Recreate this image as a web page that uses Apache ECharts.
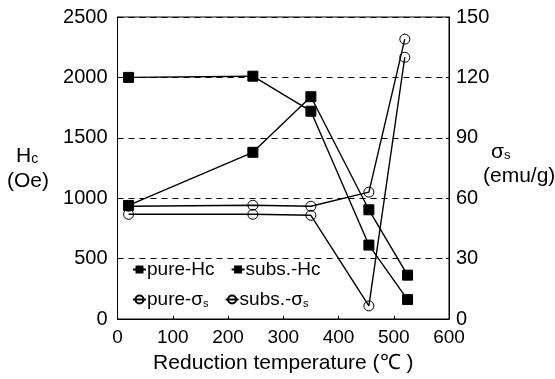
<!DOCTYPE html>
<html>
<head>
<meta charset="utf-8">
<script src="https://cdn.jsdelivr.net/npm/echarts@6/dist/echarts.min.js"></script>
<style>
  html, body { margin: 0; padding: 0; background: #fff; }
  #chart { width: 555px; height: 379px; }
</style>
</head>
<body>
<div id="chart"></div>
<script>
// reduction temperature (deg C)
const tempHc = [20, 245, 350, 455, 525];
const tempSigma = [20, 245, 350, 455, 520];

// coercivity Hc (Oe)
const pureHc = [2000, 2010, 1720, 612, 161];
const subsHc = [940, 1380, 1840, 904, 363];

// saturation magnetization sigma_s (emu/g)
const pureSigma = [56, 56.5, 56, 63, 139];
const subsSigma = [52, 52, 51.5, 6.5, 130];

const xTicks = [0, 100, 200, 300, 400, 500, 600];
const hcTicks = [0, 500, 1000, 1500, 2000, 2500];
const sigmaTicks = [0, 30, 60, 90, 120, 150];

const FONT = "'Liberation Sans', Arial, sans-serif";

const pair = (xs, ys) => xs.map((x, i) => [x, ys[i]]);

const squareSeries = (name, data) => ({
    name: name,
    type: 'line',
    yAxisIndex: 0,
    data: data,
    symbol: 'rect',
    symbolSize: 10,
    lineStyle: { color: '#000', width: 1.4 },
    itemStyle: { color: '#000', borderColor: '#000' },
    animation: false
});

const circleSeries = (name, data) => ({
    name: name,
    type: 'line',
    yAxisIndex: 1,
    data: data,
    symbol: 'circle',
    symbolSize: 10,
    showAllSymbol: true,
    lineStyle: { color: '#000', width: 1.4 },
    itemStyle: { color: 'transparent', borderColor: '#000', borderWidth: 1 },
    animation: false
});

const legendRich = {
    n: { fontSize: 19, fontFamily: FONT, color: '#000' },
    sub: { fontSize: 11, fontFamily: FONT, color: '#000', padding: [8, 0, 0, 0] }
};
const legendNames = {
    'pure-Hc': '{n|pure-Hc}',
    'subs.-Hc': '{n|subs.-Hc}',
    'pure-σs': '{n|pure-σ}{sub|s}',
    'subs.-σs': '{n|subs.-σ}{sub|s}'
};

const legendBase = {
    left: 127,
    itemWidth: 13,
    itemHeight: 10,
    itemGap: 16,
    formatter: (name) => legendNames[name],
    textStyle: { rich: legendRich, padding: [0, 0, 0, -4] }
};

const option = {
    backgroundColor: '#fff',
    textStyle: { fontFamily: FONT, color: '#000' },
    grid: {
        left: 117.5,
        right: 106,
        top: 17,
        bottom: 57,
        show: true,
        borderColor: '#000',
        borderWidth: 1,
        backgroundColor: 'transparent'
    },
    legend: [
        Object.assign({}, legendBase, { top: 255, data: ['pure-Hc', 'subs.-Hc'] }),
        Object.assign({}, legendBase, { top: 285, data: ['pure-σs', 'subs.-σs'] })
    ],
    xAxis: {
        type: 'value',
        min: xTicks[0],
        max: xTicks[xTicks.length - 1],
        interval: 100,
        name: 'Reduction temperature (℃ )',
        nameLocation: 'middle',
        nameGap: 34,
        nameTextStyle: { fontSize: 21, fontFamily: FONT, color: '#000' },
        axisLine: { lineStyle: { color: '#000', width: 1 } },
        axisTick: { inside: true, length: 3, lineStyle: { color: '#000' } },
        axisLabel: { fontSize: 19, color: '#000', margin: 9, fontFamily: FONT },
        splitLine: { show: false }
    },
    yAxis: [
        {
            type: 'value',
            position: 'left',
            min: hcTicks[0],
            max: hcTicks[hcTicks.length - 1],
            interval: 500,
            axisLine: { show: true, lineStyle: { color: '#000', width: 1 } },
            axisTick: { show: true, inside: true, length: 3, lineStyle: { color: '#000' } },
            axisLabel: {
                fontSize: 20, color: '#000', margin: 10, fontFamily: FONT,
                formatter: (v) => String(v)
            },
            splitLine: {
                show: true,
                lineStyle: { color: '#000', width: 1, type: [6, 5] }
            }
        },
        {
            type: 'value',
            position: 'right',
            min: sigmaTicks[0],
            max: sigmaTicks[sigmaTicks.length - 1],
            interval: 30,
            axisLine: { show: true, lineStyle: { color: '#000', width: 1 } },
            axisTick: { show: true, inside: true, length: 3, lineStyle: { color: '#000' } },
            axisLabel: {
                fontSize: 20, color: '#000', margin: 7, fontFamily: FONT,
                formatter: (v) => String(v)
            },
            splitLine: { show: false }
        }
    ],
    graphic: [
        {
            type: 'text',
            left: 16,
            top: 146,
            style: {
                text: '{a|H}{b|c}',
                rich: {
                    a: { fontSize: 21, fontFamily: FONT, fill: '#000' },
                    b: { fontSize: 14, fontFamily: FONT, fill: '#000', padding: [6, 0, 0, 0] }
                }
            }
        },
        {
            type: 'text',
            left: 7,
            top: 171,
            style: { text: '(Oe)', fontSize: 21, fontFamily: FONT, fill: '#000' }
        },
        {
            type: 'text',
            left: 491,
            top: 142,
            style: {
                text: '{a|σ}{b|s}',
                rich: {
                    a: { fontSize: 21, fontFamily: FONT, fill: '#000' },
                    b: { fontSize: 13, fontFamily: FONT, fill: '#000', padding: [6, 0, 0, 0] }
                }
            }
        },
        {
            type: 'text',
            left: 483,
            top: 166,
            style: { text: '(emu/g)', fontSize: 21, fontFamily: FONT, fill: '#000' }
        }
    ],
    series: [
        squareSeries('pure-Hc', pair(tempHc, pureHc)),
        squareSeries('subs.-Hc', pair(tempHc, subsHc)),
        circleSeries('pure-σs', pair(tempSigma, pureSigma)),
        circleSeries('subs.-σs', pair(tempSigma, subsSigma))
    ]
};

const chart = echarts.init(document.getElementById('chart'), null, { renderer: 'canvas' });
chart.setOption(option);
</script>
</body>
</html>
